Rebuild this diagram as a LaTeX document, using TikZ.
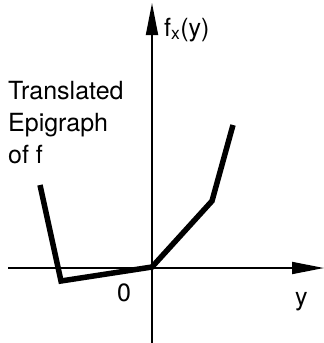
\documentclass[tikz,border=0pt]{standalone}
\usepackage{fontspec}
\setmainfont{TeX Gyre Heros}
\usepackage{tikz}
\usetikzlibrary{arrows.meta}
\begin{document}
\begin{tikzpicture}[x=1pt,y=-1pt,
    axis/.style={line width=1.8pt,-{Triangle[length=32pt,width=12pt]}},
    epi/.style={line width=5.5pt,line join=miter},
    lbl/.style={font=\fontsize{25}{32}\selectfont,inner sep=0pt}]
  \useasboundingbox (0,0) rectangle (324,343);
  % axes
  \coordinate (xl) at (8,268);
  \coordinate (xr) at (324,268);
  \coordinate (yb) at (152,343);
  \coordinate (yt) at (152,3);
  \draw[axis] (xl) -- (xr);
  \draw[axis] (yb) -- (yt);
  % translated epigraph
  \coordinate (p0) at (40,185);
  \coordinate (p1) at (61,281);
  \coordinate (p2) at (152,267);
  \coordinate (p3) at (212,201);
  \coordinate (p4) at (233,125);
  \draw[epi] (p0) -- (p1) -- (p2) -- (p3) -- (p4);
  % labels
  \node[lbl,anchor=base west] (fx) at (164,36) {f\textsubscript{x}(y)};
  \node[lbl,anchor=north west,align=left] (epilbl) at (8,81) {Translated\\Epigraph\\of f};
  \node[lbl,anchor=base west] (zero) at (117,301) {0};
  \node[lbl,anchor=base west] (ylbl) at (295,305) {y};
\end{tikzpicture}
\end{document}
